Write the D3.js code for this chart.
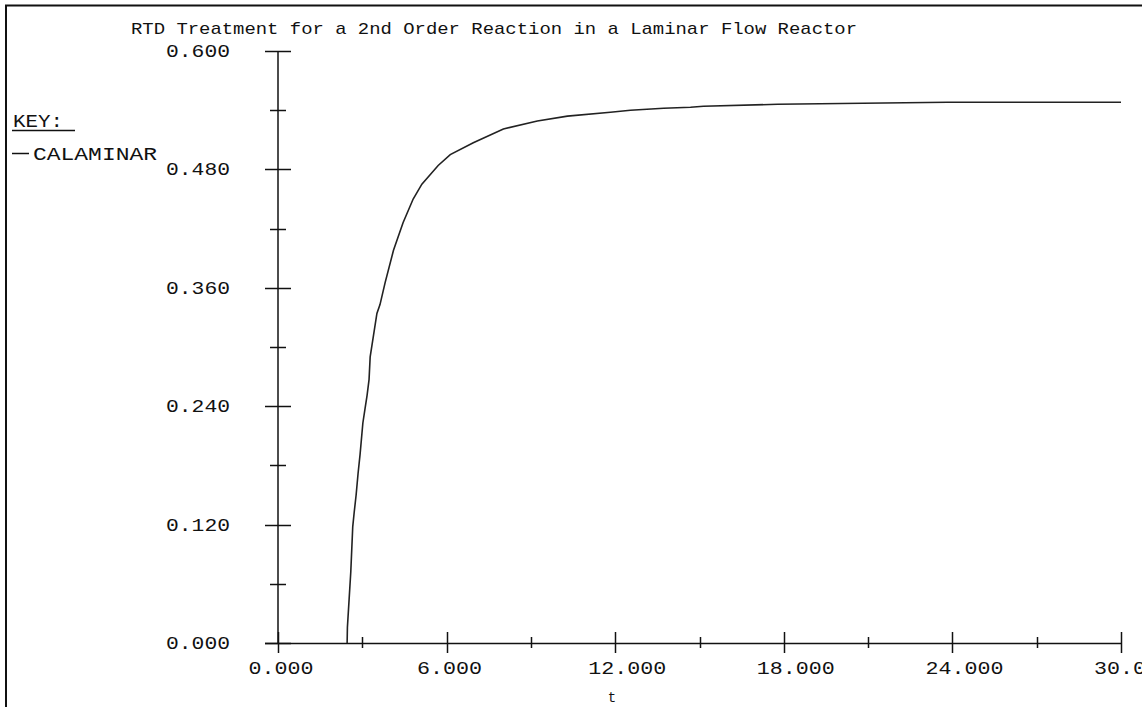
<!DOCTYPE html>
<html>
<head>
<meta charset="utf-8">
<script src="https://cdn.jsdelivr.net/npm/d3@7"></script>
<style>
  html, body { margin: 0; padding: 0; background: #fff; overflow: hidden; }
  svg { display: block; }
  text { font-family: "Liberation Mono", "DejaVu Sans Mono", monospace; fill: #111; }
</style>
</head>
<body>
<svg id="chart" width="1142" height="707"></svg>
<script>
// ---- data ----
const chartTitle = "RTD Treatment for a 2nd Order Reaction in a Laminar Flow Reactor";
const xLabel = "t";
const seriesName = "CALAMINAR";
const tValues = [2.46, 2.47, 2.53, 2.59, 2.66, 2.71, 2.78, 2.85, 2.92, 3.02, 3.10, 3.17, 3.24, 3.28, 3.52, 3.63, 3.81, 4.11, 4.45, 4.81, 5.12, 5.70, 6.13, 6.95, 8.02, 9.23, 10.30, 11.83, 12.54, 13.72, 14.68, 15.14, 17.78, 23.83, 30.0];
const caValues = [0.000, 0.016, 0.044, 0.072, 0.118, 0.132, 0.150, 0.172, 0.191, 0.223, 0.238, 0.251, 0.267, 0.290, 0.334, 0.343, 0.365, 0.398, 0.426, 0.450, 0.465, 0.484, 0.495, 0.507, 0.521, 0.529, 0.534, 0.538, 0.540, 0.542, 0.543, 0.544, 0.546, 0.548, 0.548];
const yMajorTicks = [0, 0.12, 0.24, 0.36, 0.48, 0.6];
const yMinorTicks = [0.06, 0.18, 0.30, 0.42, 0.54];
const yTickLabels = ["0.000", "0.120", "0.240", "0.360", "0.480", "0.600"];
const xMajorTicks = [0, 6, 12, 18, 24, 30];
const xMinorTicks = [3, 9, 15, 21, 27];
const xTickLabels = ["0.000", "6.000", "12.000", "18.000", "24.000", "30.000"];

// ---- drawing ----
const svg = d3.select("#chart");
const x = d3.scaleLinear().domain([0, 30]).range([278, 1121]);
const y = d3.scaleLinear().domain([0, 0.6]).range([643, 51]);
const ink = "#111";

// frame
svg.append("line").attr("x1", 6).attr("x2", 6).attr("y1", 5).attr("y2", 707).attr("stroke", ink).attr("stroke-width", 2);
svg.append("line").attr("x1", 5).attr("x2", 1142).attr("y1", 5.5).attr("y2", 5.5).attr("stroke", ink).attr("stroke-width", 2);

// title
svg.append("text").attr("x", 131).attr("y", 34).attr("font-size", 17)
  .attr("textLength", 726).attr("lengthAdjust", "spacingAndGlyphs").text(chartTitle);

// y axis
const ya = svg.append("g").attr("stroke", ink).attr("stroke-width", 1.5);
ya.append("line").attr("x1", x(0)).attr("x2", x(0)).attr("y1", y(0.6)).attr("y2", y(0));
yMajorTicks.forEach(v => ya.append("line").attr("x1", x(0) - 13).attr("x2", x(0) + 13).attr("y1", Math.round(y(v)) + 0.5).attr("y2", Math.round(y(v)) + 0.5));
yMinorTicks.forEach(v => ya.append("line").attr("x1", x(0) - 8).attr("x2", x(0) + 8).attr("y1", Math.round(y(v)) + 0.5).attr("y2", Math.round(y(v)) + 0.5));
yMajorTicks.forEach((v, i) => {
  svg.append("text").attr("x", 166).attr("y", y(v) + 6).attr("font-size", 18)
    .attr("textLength", 64).attr("lengthAdjust", "spacingAndGlyphs").text(yTickLabels[i]);
});

// x axis
const xa = svg.append("g").attr("stroke", ink).attr("stroke-width", 1.5);
xa.append("line").attr("x1", x(0) - 13).attr("x2", x(30)).attr("y1", y(0) + 0.5).attr("y2", y(0) + 0.5);
xMajorTicks.forEach(v => xa.append("line").attr("x1", Math.round(x(v)) + 0.5).attr("x2", Math.round(x(v)) + 0.5).attr("y1", y(0) - 11).attr("y2", y(0) + 10));
xMinorTicks.forEach(v => xa.append("line").attr("x1", Math.round(x(v)) + 0.5).attr("x2", Math.round(x(v)) + 0.5).attr("y1", y(0) - 6).attr("y2", y(0) + 5));
xMajorTicks.forEach((v, i) => {
  const lbl = xTickLabels[i];
  const w = lbl.length * 13;
  const start = x(v) - (lbl.length > 5 ? 27 : 29.5);
  svg.append("text").attr("x", start).attr("y", 674).attr("font-size", 18)
    .attr("textLength", w).attr("lengthAdjust", "spacingAndGlyphs").text(lbl);
});
svg.append("text").attr("x", 612).attr("y", 702).attr("font-size", 14).attr("text-anchor", "middle").text(xLabel);

// legend
svg.append("text").attr("x", 13).attr("y", 127).attr("font-size", 18)
  .attr("textLength", 50).attr("lengthAdjust", "spacingAndGlyphs").text("KEY:");
svg.append("line").attr("x1", 12).attr("x2", 75).attr("y1", 130.5).attr("y2", 130.5).attr("stroke", ink).attr("stroke-width", 1.5);
svg.append("line").attr("x1", 12).attr("x2", 29).attr("y1", 153.5).attr("y2", 153.5).attr("stroke", ink).attr("stroke-width", 1.5);
svg.append("text").attr("x", 33).attr("y", 160).attr("font-size", 18)
  .attr("textLength", 124).attr("lengthAdjust", "spacingAndGlyphs").text(seriesName);

// curve
const pts = tValues.map((t, i) => [t, caValues[i]]);
svg.append("path").datum(pts)
  .attr("fill", "none").attr("stroke", "#222").attr("stroke-width", 1.6)
  .attr("d", d3.line().x(d => x(d[0])).y(d => y(d[1])));
</script>
</body>
</html>
